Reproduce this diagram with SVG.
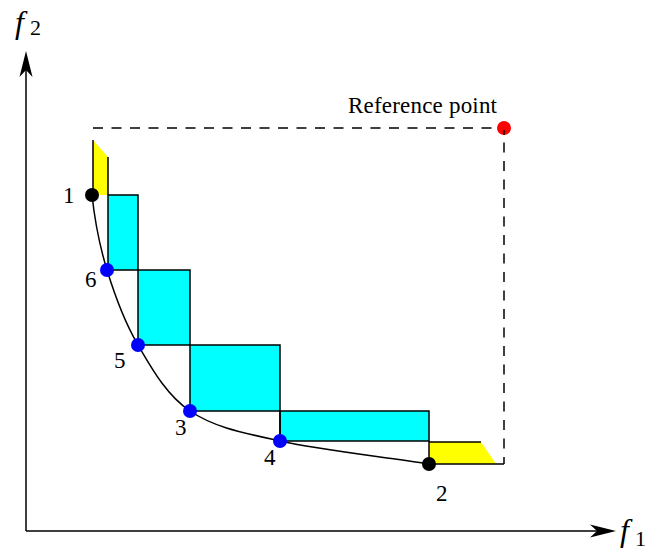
<svg xmlns="http://www.w3.org/2000/svg" width="652" height="552" viewBox="0 0 652 552">
<style>
.lab{font-family:"Liberation Serif","Times New Roman",serif;font-size:23px;fill:#000}
.ax{font-family:"Liberation Serif","Times New Roman",serif;font-style:italic;font-size:32px;fill:#000}
.sub{font-family:"Liberation Serif","Times New Roman",serif;font-size:22px;fill:#000}
.ln{stroke:#000;stroke-width:1.5;fill:none}
.cy{fill:#00FFFF;stroke:#000;stroke-width:1.5}
.ye{fill:#FFFF00;stroke:none}
.dash{stroke:#000;stroke-width:1.5;fill:none;stroke-dasharray:10 8.5}
</style>
<rect width="652" height="552" fill="#fff"/>
<g id="axes">
<path class="ln" d="M26,531 L26,62 M26,531 L605,531"/>
<path d="M26,51 L32.5,77 L26,70 L19.5,77 Z" fill="#000"/>
<path d="M616,531 L590,537.5 L597,531 L590,524.5 Z" fill="#000"/>
<text class="ax" x="15" y="33">f</text><text class="sub" x="30" y="35">2</text>
<text class="ax" x="620" y="541">f</text><text class="sub" x="635" y="546">1</text>
</g>
<g id="regions">
<polygon class="ye" points="93,140 108,157 108,195 93,195"/>
<polygon class="ye" points="429,442 481,442 496,464 429,464"/>
<rect class="cy" x="108" y="195" width="30" height="75"/>
<rect class="cy" x="138" y="270" width="52" height="75"/>
<rect class="cy" x="190" y="345" width="90" height="66"/>
<rect class="cy" x="280" y="411" width="149" height="30"/>
</g>
<g id="connectors">
<path class="ln" d="M93,140 L93,195 M108,157 L108,195 M429,441 L429,464 L504,464 M429,442 L481,442 M280,441 L280,411"/>
<path class="dash" d="M93,128 L504,128 L504,464"/>
<path class="ln" d="M92,195 C94.7,220 99.3,245 107,270 C114.7,295 124.2,321.5 138,345 C151.8,368.5 166.3,395 190,411 C213.7,427 240.2,432.2 280,441 C319.8,449.8 379.3,456.3 429,464"/>
</g>
<g id="p1"><circle cx="92" cy="195" r="7" fill="#000"/><text class="lab" x="63" y="203">1</text></g>
<g id="p6"><circle cx="107" cy="270" r="7" fill="#0000FF"/><text class="lab" x="85" y="287">6</text></g>
<g id="p5"><circle cx="138" cy="345" r="7" fill="#0000FF"/><text class="lab" x="114" y="368">5</text></g>
<g id="p3"><circle cx="190" cy="411" r="7" fill="#0000FF"/><text class="lab" x="175" y="435">3</text></g>
<g id="p4"><circle cx="280" cy="441" r="7" fill="#0000FF"/><text class="lab" x="264" y="465">4</text></g>
<g id="p2"><circle cx="429" cy="464" r="7" fill="#000"/><text class="lab" x="436" y="501">2</text></g>
<g id="ref"><circle cx="504" cy="128" r="7" fill="#FF0000"/><path class="ln" d="M504,130 L504,135"/><text class="lab" x="348" y="113" font-size="24" textLength="149">Reference point</text></g>
</svg>
